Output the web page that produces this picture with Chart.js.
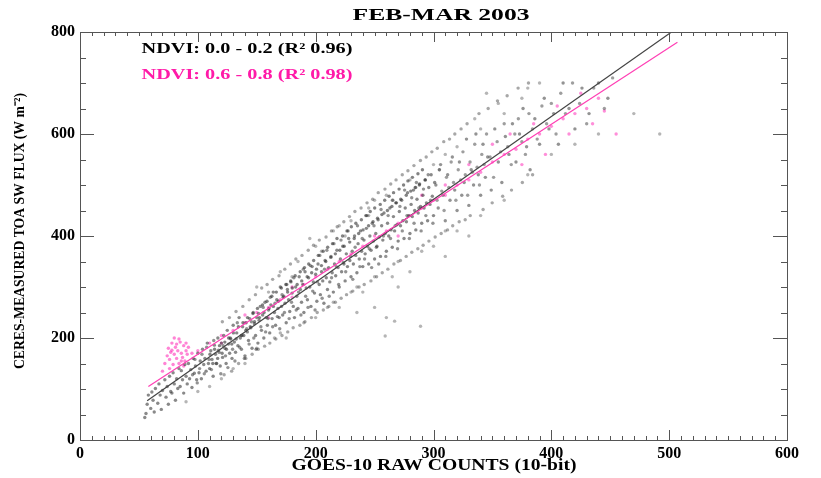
<!DOCTYPE html>
<html lang="en">
<head>
    <meta charset="UTF-8">
    <title>FEB-MAR 2003</title>
    <script src="https://cdn.jsdelivr.net/npm/chart.js"></script>
    <style>
        body { margin: 0; background: #fff; }
    </style>
</head>
<body>
    <canvas id="scatterChart" width="821" height="478"></canvas>

    <script>
        // Axis ticks
        const xTicks = [0, 100, 200, 300, 400, 500, 600];
        const yTicks = [0, 200, 400, 600, 800];

        // NDVI 0.0 - 0.2 points ([counts, flux])
        const blackLow = [
            [56,52],[57,70],[58,88],[55,44],[60,62],[61,94],[62,78],[63,55],[64,101],
            [66,72],[67,110],[68,88],[69,60],[70,97],[72,118],[73,84],[74,105],[75,70],[76,125],[77,95],
            [78,92],[79,132],[80,110],[81,78],[82,120],[83,101],[84,140],[85,105],[86,136],[87,118],
            [88,92],[89,148],[90,125],[91,110],[92,150],[93,120],[94,138],[95,103],[96,160],[97,131],
            [98,145],[99,118],[100,170],[101,132],[102,155],[103,120],[104,178],[105,148],[106,160],
            [107,135],[108,190],[109,150],[110,140],[111,175],[112,158],[113,125],[114,186],[115,168],
            [116,150],[117,200],[118,172],[119,145],[120,190],[121,162],[122,205],[123,180],[124,150],
            [125,215],[126,188],[127,170],[128,198],[129,160],[130,225],[131,192],[132,172],[133,210],
            [134,185],[135,240],[136,200],[137,178],[138,222],[139,205],[140,165],[141,230],[142,212],
            [143,195],[144,238],[145,220],[146,180],[147,250],[148,228],[149,205],[150,240],[151,190]
        ];
        const blackMid = [
            [152,235],[153,262],[154,215],[155,245],[156,200],[157,270],[158,240],[159,225],[160,255],
            [161,210],[162,265],[163,238],[164,290],[165,250],[166,225],[167,275],[168,258],[169,240],
            [170,300],[171,262],[172,245],[173,282],[174,268],[175,230],[176,295],[177,275],[178,252],
            [179,310],[180,288],[181,262],[182,240],[183,300],[184,282],[185,258],[186,320],[187,295],
            [188,270],[189,305],[190,250],[191,330],[192,298],[193,275],[194,318],[195,300],[196,262],
            [197,340],[198,310],[199,288],[200,325],[201,272],[202,345],[203,305],[204,285],[205,330],
            [206,312],[207,268],[208,352],[209,318],[210,295],[211,338],[212,310],[213,360],[214,328],
            [215,290],[216,345],[217,322],[218,372],[219,338],[220,300],[221,355],[222,330],[223,380],
            [224,345],[225,312],[226,365],[227,340],[228,395],[229,352],[230,320],[231,370],[232,345],
            [233,400],[234,362],[235,328],[236,385],[237,355],[238,410],[239,370],[240,340],[241,392],
            [242,365],[243,415],[244,380],[245,345],[246,400],[247,372],[248,425],[249,390],[250,355],
            [251,405],[252,380],[253,432],[254,398],[255,360],[256,420],[257,392],[258,445],[259,405],
            [260,370],[261,425],[262,400],[263,455],[264,412],[265,378],[266,438],[267,410],[268,465],
            [269,422],[270,390],[271,448],[272,420],[273,470],[274,430],[275,395],[276,455],[277,428],
            [278,485],[279,440],[280,405],[281,462],[282,438],[283,490],[284,450],[285,412],[286,472],
            [287,445],[288,500],[289,458],[290,425],[291,480],[292,455],[293,510],[294,465],[295,430],
            [296,495],[297,462],[298,520],[299,478],[300,440],[301,505]
        ];
        const blackHigh = [
            [303,470],[305,530],[307,488],[309,450],[311,515],[313,495],[315,545],[317,505],[319,470],
            [321,530],[323,510],[325,565],[327,520],[329,480],[331,545],[333,525],[335,580],[337,535],
            [339,500],[341,560],[343,540],[345,600],[348,555],[351,515],[354,585],[357,565],[360,620],
            [363,575],[366,540],[369,600],[372,630],[375,585],[378,560],[381,640],[384,610],[388,590],
            [392,655],[396,620],[400,660],[404,600],[408,680],[412,640],[418,700],[424,660],[430,620],
            [436,690],[445,650],[452,710]
        ];
        const blackFill = [
            [95.5,128],[97.5,158],[99.5,112],[101.5,140],[103.5,168],[105.5,130],[107.5,182],[109.5,158],
            [111.5,138],[113.5,195],[115.5,150],[117.5,176],[119.5,130],[121.5,185],[123.5,165],[125.5,142],
            [127.5,200],[129.5,178],[131.5,155],[133.5,230],[135.5,182],[137.5,205],[139.5,160],[141.5,218],
            [143.5,188],[145.5,232],[147.5,200],[149.5,178],[151.5,248],[153.5,222],[155.5,260],[157.5,212],
            [159.5,238],[161.5,280],[163.5,222],[165.5,268],[167.5,242],[169.5,218],[171.5,285],[173.5,250],
            [175.5,305],[177.5,238],[179.5,270],[181.5,318],[183.5,255],[185.5,290],[187.5,245],[189.5,335],
            [191.5,282],[193.5,260],[195.5,342],[197.5,292],[199.5,255],[201.5,310],[203.5,362],[205.5,278],
            [207.5,335],[209.5,372],[211.5,282],[213.5,318],[215.5,385],[217.5,340],[219.5,305],[221.5,392],
            [223.5,348],[225.5,330],[227.5,410],[229.5,360],[231.5,315],[233.5,378],[235.5,420],[237.5,340],
            [239.5,395],[241.5,355],[243.5,440],[245.5,375],[247.5,338],[249.5,420],[251.5,378],[253.5,345],
            [255.5,452],[257.5,400],[259.5,360],[261.5,440],[263.5,395],[265.5,470],[267.5,420],[269.5,375],
            [271.5,458],[273.5,410],[275.5,490],[277.5,440],[279.5,395],[281.5,475],[283.5,425],[285.5,505],
            [287.5,455],[289.5,410],[291.5,492],[293.5,440],[295.5,520],[297.5,470],[299.5,425],[302,500],
            [304,455],[306,540],[308,480],[310,430],[312,520],[314,470],[316,555],[318,490],[320,450],
            [322,545],[324,480],[326,505],[328,590],[330,460],[332,530],[334,500],[336,600],[338,520],
            [340,480],[342,580],[344,515],[346,555],[349,490],[352,610],[355,545],[358,505],[361,595],
            [364,560],[367,620],[370,545],[373,600],[376,650],[379,575],[382,530],[386,630],[390,580],
            [394,670],[398,610],[402,640],[406,580],[410,700],[415,650],[420,610],[426,690],[432,640],
            [440,700],[448,670]
        ];
        const blackCore = [
            [110.3,168],[112.7,150],[114.2,178],[116.8,160],[118.4,185],[120.6,170],[122.9,192],[124.3,178],
            [126.1,200],[128.8,188],[130.2,210],[132.6,198],[134.4,222],[136.9,205],[138.3,230],[140.7,215],
            [142.2,240],[144.5,222],[146.8,248],[148.1,232],[150.6,258],[152.3,240],[154.9,265],[156.2,250],
            [158.7,272],[160.4,258],[162.8,282],[164.1,262],[166.6,290],[168.3,272],[170.9,298],[172.4,280],
            [174.7,305],[176.2,290],[178.8,312],[180.1,298],[182.6,322],[184.3,305],[186.9,330],[188.2,312],
            [190.5,338],[192.8,320],[194.1,345],[196.6,328],[198.3,352],[200.7,335],[202.2,362],[204.9,342],
            [206.4,370],[208.6,350],[210.2,378],[212.9,358],[214.3,385],[216.7,365],[218.1,395],[220.5,372],
            [222.8,400],[224.2,380],[226.6,410],[228.9,388],[230.3,418],[232.7,395],[234.1,425],[236.5,405],
            [238.8,432],[240.2,412],[242.6,440],[244.9,420],[246.3,448],[248.7,428],[250.1,455],[252.5,435],
            [254.8,462],[256.2,442],[258.6,470],[260.9,450],[262.3,478],[264.7,458],[266.1,485],[268.5,465],
            [270.8,492],[272.2,472],[274.6,500],[276.9,480],[278.3,508],[280.7,488],[282.1,515],[284.5,495],
            [286.8,522],[288.2,502],[290.6,530],[292.9,510]
        ];
        const blackEdge = [
            [120.8,232],[122.3,128],[126.8,240],[128.7,135],[132.4,252],[134.6,150],[138.2,262],[140.7,160],
            [143.6,275],[146.1,168],[148.9,285],[151.3,178],[154.2,298],[156.7,184],[158.8,305],[161.1,190],
            [163.5,315],[166.2,198],[168.9,322],[171.4,205],[173.8,335],[176.3,212],[178.6,345],[180.9,220],
            [183.2,355],[186.6,225],[188.4,362],[190.9,232],[193.7,372],[196.4,240],[198.2,382],[201.3,250],
            [203.1,392],[206.5,255],[208.8,398],[211.2,262],[213.4,410],[216.7,270],[218.3,418],[221.6,278],
            [223.9,428],[226.2,285],[228.7,438],[231.5,292],[233.3,448],[236.8,300],[238.5,455],[241.2,305],
            [243.6,465],[246.9,312],[248.4,472],[251.7,320],[253.1,485],[256.5,328],[258.8,492],[261.3,335],
            [263.7,502],[266.4,345],[268.2,510],[271.9,352],[273.5,520],[276.8,360],[278.3,528],[281.6,368],
            [283.4,538],[286.7,375],[288.9,548],[291.2,382],[293.8,555],[296.1,390],[298.6,565],[301.4,398],
            [303.2,572],[306.5,405],[308.7,585],[311.9,412],[313.6,590],[316.3,420],[318.1,600],[321.8,428],
            [323.4,610],[326.9,432],[328.5,620],[331.2,440],[338.6,640],[342.1,452],[346.4,650],[349.8,465],
            [354.3,665],[358.7,478],[362.5,675],[366.2,490],[371.8,690],[375.4,505],[380.6,700],[384.1,520]
        ];
        const blackStray = [
            [150,300],[170,330],[185,350],[200,380],[215,410],[230,430],[245,455],[260,480],[280,510],
            [300,540],[320,575],[340,610],[360,640],[375,670],[390,700],[310,560],[335,630],[355,660],
            [380,690],[250,470],[220,420],[195,395],[200,240],[220,260],[240,290],[250,260],[265,320],
            [280,330],[300,380],[320,410],[340,440],[360,470],[380,520],[400,560],[420,580],[440,600],
            [235,250],[270,300],[310,360],[260,240],[330,400],[267,233],[259,204],[289,223],[235,300],
            [492,600],[470,640],[345,680],[120,120],[140,150],[165,200],[110,105],[90,75],[100,95],
            [130,140],[150,180],[170,210],[190,230],[210,260],[230,290],[250,320],[270,350],[290,370],
            [310,410],[160,290],[180,320],[205,370],[225,400],[245,440],[265,470],[285,495],[305,530],
            [175,200],[215,270]
        ];

        // NDVI 0.6 - 0.8 points
        const pinkCluster = [
            [72,150],[74,165],[75,180],[76,158],[77,172],[78,190],[79,148],[80,168],[81,182],[82,160],
            [83,175],[84,150],[85,192],[86,170],[87,162],[88,185],[89,155],[90,175],[91,168],[92,182],
            [80,200],[76,140],[84,198],[88,145],[70,135],[95,170],[78,176],[82,188],[86,155],[90,190]
        ];
        const pinkSpread = [
            [110,190],[120,205],[130,215],[140,230],[150,250],[160,260],[170,275],[180,300],[190,305],
            [200,320],[210,335],[220,350],[230,365],[240,380],[250,400],[260,410],[270,425],[280,440],
            [290,455],[300,470],[310,480],[320,500],[330,510],[340,525],[350,545],[360,560],[370,570],
            [380,590],[390,600],[400,615],[410,630],[420,640],[430,650],[440,670],[350,580],[365,600],
            [375,540],[385,620],[395,560],[405,655],[415,600],[425,680],[435,620],[445,645],[455,600],
            [330,540],[310,500],[290,480],[270,400],[180,280],[160,240],[140,245],[120,190],[100,175]
        ];

        // Linear fits, end points
        const blackFitX = [57, 502];
        const blackFitY = [77, 800];
        const pinkFitX = [58, 507];
        const pinkFitY = [105, 780];

        const toXY = arr => arr.map(p => ({ x: p[0], y: p[1] }));
        const serif = '"Liberation Serif", "Times New Roman", serif';

        // Draw text squeezed to a given width
        function fitText(ctx, text, cx, cy, width) {
            const w = ctx.measureText(text).width;
            ctx.save();
            ctx.translate(cx, cy);
            ctx.scale(width / w, 1);
            ctx.fillText(text, 0, 0);
            ctx.restore();
        }

        const framePlugin = {
            id: 'frame',
            afterDraw(chart) {
                const { ctx, chartArea: a, scales: { x, y } } = chart;
                ctx.save();
                ctx.strokeStyle = '#555';
                ctx.lineWidth = 1;
                ctx.strokeRect(a.left + 0.5, a.top + 0.5, a.right - a.left, a.bottom - a.top);
                ctx.beginPath();
                for (let v = 0; v <= 600; v += 10) {
                    const px = Math.round(x.getPixelForValue(v)) + 0.5;
                    const len = v % 100 === 0 ? 10 : 4;
                    ctx.moveTo(px, a.bottom); ctx.lineTo(px, a.bottom - len);
                    ctx.moveTo(px, a.top); ctx.lineTo(px, a.top + len);
                }
                for (let v = 0; v <= 800; v += 50) {
                    const py = Math.round(y.getPixelForValue(v)) + 0.5;
                    const len = v % 200 === 0 ? 14 : 6;
                    ctx.moveTo(a.left, py); ctx.lineTo(a.left + len, py);
                    ctx.moveTo(a.right, py); ctx.lineTo(a.right - len, py);
                }
                ctx.stroke();

                ctx.textAlign = 'center';
                ctx.textBaseline = 'middle';
                ctx.fillStyle = '#000';
                ctx.font = 'bold 17px ' + serif;
                fitText(ctx, 'FEB-MAR 2003', 441, 16, 177);

                ctx.font = 'bold 15px ' + serif;
                fitText(ctx, 'NDVI: 0.0 - 0.2 (R² 0.96)', 247, 49, 211);
                ctx.fillStyle = '#ff1aa8';
                fitText(ctx, 'NDVI: 0.6 - 0.8 (R² 0.98)', 247, 75, 211);

                ctx.fillStyle = '#000';
                ctx.font = 'bold 16px ' + serif;
                fitText(ctx, 'GOES-10 RAW COUNTS (10-bit)', 434, 466, 285);

                ctx.save();
                ctx.translate(20, 231);
                ctx.rotate(-Math.PI / 2);
                ctx.font = 'bold 15px ' + serif;
                fitText(ctx, 'CERES-MEASURED TOA SW FLUX (W m⁻²)', 0, 0, 276);
                ctx.restore();
                ctx.restore();
            }
        };

        const dot = (data, color) => ({
            type: 'scatter',
            data: toXY(data),
            pointRadius: 1.7,
            pointBorderWidth: 0,
            pointBackgroundColor: color,
            pointHoverRadius: 1.7
        });

        const ctx = document.getElementById('scatterChart').getContext('2d');
        new Chart(ctx, {
            type: 'scatter',
            data: {
                datasets: [
                    { ...dot(pinkCluster, 'rgba(255,50,185,0.6)'), order: 4 },
                    { ...dot(pinkSpread, 'rgba(255,50,185,0.55)'), order: 4 },
                    { ...dot(blackLow, 'rgba(40,40,40,0.55)'), order: 3 },
                    { ...dot(blackMid, 'rgba(40,40,40,0.55)'), order: 3 },
                    { ...dot(blackHigh, 'rgba(40,40,40,0.45)'), order: 3 },
                    { ...dot(blackFill, 'rgba(40,40,40,0.5)'), order: 3 },
                    { ...dot(blackCore, 'rgba(30,30,30,0.55)'), order: 3 },
                    { ...dot(blackEdge, 'rgba(60,60,60,0.45)'), order: 3 },
                    { ...dot(blackStray, 'rgba(70,70,70,0.4)'), order: 3 },
                    {
                        type: 'line',
                        data: blackFitX.map((v, i) => ({ x: v, y: blackFitY[i] })),
                        borderColor: '#444',
                        borderWidth: 1.2,
                        pointRadius: 0,
                        order: 1
                    },
                    {
                        type: 'line',
                        data: pinkFitX.map((v, i) => ({ x: v, y: pinkFitY[i] })),
                        borderColor: '#ff3fb4',
                        borderWidth: 1.2,
                        pointRadius: 0,
                        order: 0
                    }
                ]
            },
            options: {
                responsive: false,
                animation: false,
                layout: { padding: { left: 0, right: 34, top: 32, bottom: 0 } },
                plugins: {
                    legend: { display: false },
                    tooltip: { enabled: false }
                },
                scales: {
                    x: {
                        type: 'linear',
                        min: 0,
                        max: 600,
                        afterBuildTicks: s => { s.ticks = xTicks.map(v => ({ value: v })); },
                        afterFit: s => { s.height = 38; },
                        grid: { display: false, drawTicks: false },
                        border: { display: false },
                        ticks: {
                            color: '#000',
                            padding: 4,
                            maxRotation: 0,
                            autoSkip: false,
                            font: { family: serif, weight: 'bold', size: 16 }
                        }
                    },
                    y: {
                        type: 'linear',
                        min: 0,
                        max: 800,
                        afterBuildTicks: s => { s.ticks = yTicks.map(v => ({ value: v })); },
                        afterFit: s => { s.width = 80; },
                        grid: { display: false, drawTicks: false },
                        border: { display: false },
                        ticks: {
                            color: '#000',
                            padding: 5,
                            autoSkip: false,
                            font: { family: serif, weight: 'bold', size: 16 }
                        }
                    }
                }
            },
            plugins: [framePlugin]
        });
    </script>
</body>
</html>
